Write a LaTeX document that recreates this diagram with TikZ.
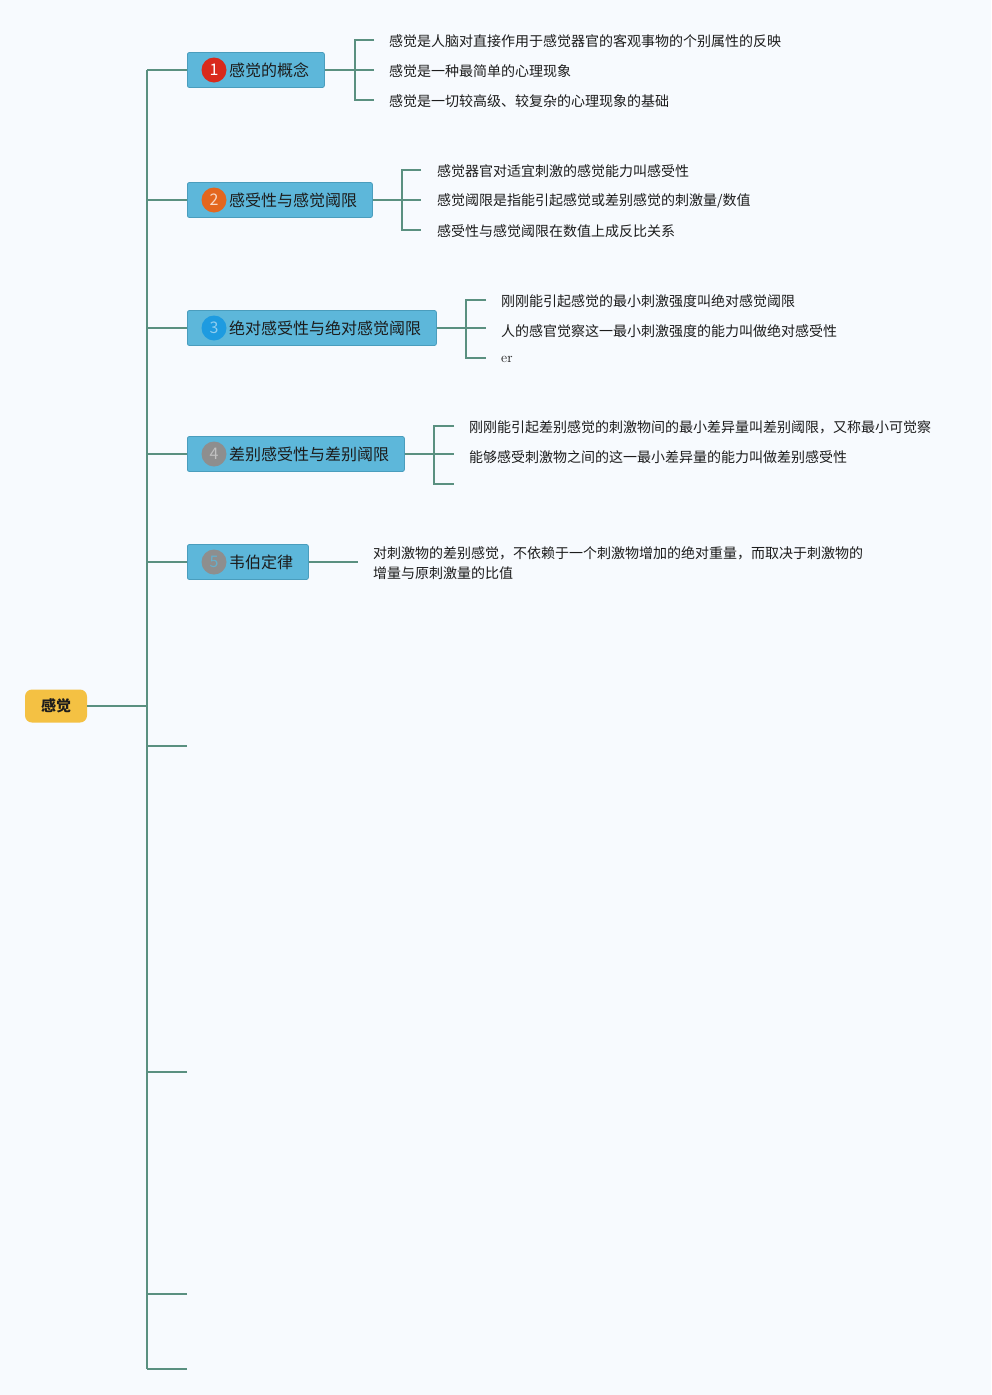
\documentclass[tikz,border=0pt]{standalone}
\usepackage{fontspec}
\newfontfamily\cjk{Noto Sans CJK SC}
\definecolor{bg}{HTML}{F7FAFE}
\definecolor{conncol}{HTML}{5A9080}
\definecolor{topicfill}{HTML}{5DB7DA}
\definecolor{topicdraw}{HTML}{4A9DBD}
\definecolor{rootfill}{HTML}{F4C143}
\definecolor{txt}{HTML}{1C1C1C}
\definecolor{cred}{HTML}{D92A1C}
\definecolor{cora}{HTML}{E4661E}
\definecolor{cblue}{HTML}{1E9BE0}
\definecolor{cgray}{HTML}{8E8E8E}
\tikzset{
  conn/.style={draw=conncol, line width=1.8pt},
  topic/.style={draw=topicdraw, fill=topicfill, line width=0.8pt, rounded corners=2pt, minimum height=35pt, anchor=west, inner sep=0pt},
  topictext/.style={anchor=west, inner sep=0pt, text=txt, font=\cjk\fontsize{16}{19}\selectfont},
  numc/.style={circle, minimum size=25pt, inner sep=0pt, font=\cjk\fontsize{16}{16}\selectfont},
  leaf/.style={anchor=west, inner sep=0pt, text=txt, font=\cjk\fontsize{14}{20}\selectfont, align=left},
}
\begin{document}
\begin{tikzpicture}[x=1pt,y=-1pt]
\fill[bg] (0,0) rectangle (991,1395);
\useasboundingbox (0,0) rectangle (991,1395);

% root
\node[fill=rootfill, rounded corners=7pt, minimum width=62pt, minimum height=33pt, inner sep=0pt, text=txt, font=\cjk\bfseries\fontsize{15}{15}\selectfont] (root) at (56,706) {感觉};

% trunk
\coordinate (ttop) at (147,70);
\coordinate (tbot) at (147,1369);
\draw[conn] (ttop) -- (tbot);
\draw[conn] (root.east) -- (root.east -| ttop);

% topics
\node[topic, minimum width=137pt] (n1) at (187,70) {};
\node[numc, fill=cred, text=white] (k1) at (214,70) {1};
\node[topictext] (t1) at (229,70) {感觉的概念};

\node[topic, minimum width=185pt] (n2) at (187,200) {};
\node[numc, fill=cora, text=white!75!cora] (k2) at (214,200) {2};
\node[topictext] (t2) at (229,200) {感受性与感觉阈限};

\node[topic, minimum width=249pt] (n3) at (187,328) {};
\node[numc, fill=cblue, text=white!50!cblue] (k3) at (214,328) {3};
\node[topictext] (t3) at (229,328) {绝对感受性与绝对感觉阈限};

\node[topic, minimum width=217pt] (n4) at (187,454) {};
\node[numc, fill=cgray, text=white!45!cgray] (k4) at (214,454) {4};
\node[topictext] (t4) at (229,454) {差别感受性与差别阈限};

\node[topic, minimum width=121pt] (n5) at (187,562) {};
\node[numc, fill=cgray, text=topicfill!80!cgray] (k5) at (214,562) {5};
\node[topictext] (t5) at (229,562) {韦伯定律};

\foreach \n in {n1,n2,n3,n4,n5} \draw[conn] (\n.west) -- (\n.west -| ttop);

% empty stubs
\coordinate (s6) at (187,746);
\coordinate (s7) at (187,1072);
\coordinate (s8) at (187,1294);
\coordinate (s9) at (187,1369);
\foreach \s in {s6,s7,s8,s9} \draw[conn] (\s) -- (\s -| ttop);

% children of 1
\node[leaf] (c11) at (389,41) {感觉是人脑对直接作用于感觉器官的客观事物的个别属性的反映};
\node[leaf] (c12) at (389,71) {感觉是一种最简单的心理现象};
\node[leaf] (c13) at (389,101) {感觉是一切较高级、较复杂的心理现象的基础};
\coordinate (b1) at (355,70);
\coordinate (e11) at (374,40);
\coordinate (e12) at (374,70);
\coordinate (e13) at (374,100);
\draw[conn, line width=1.5pt] (e11) -| (b1) |- (e13);
\draw[conn, line width=1.5pt] (n1.east) -- (e12);

% children of 2
\node[leaf] (c21) at (437,171) {感觉器官对适宜刺激的感觉能力叫感受性};
\node[leaf] (c22) at (437,201) {感觉阈限是指能引起感觉或差别感觉的刺激量/数值};
\node[leaf] (c23) at (437,231) {感受性与感觉阈限在数值上成反比关系};
\coordinate (b2) at (402,200);
\coordinate (e21) at (421,170);
\coordinate (e22) at (421,200);
\coordinate (e23) at (421,230);
\draw[conn, line width=1.5pt] (e21) -| (b2) |- (e23);
\draw[conn, line width=1.5pt] (n2.east) -- (e22);

% children of 3
\node[leaf] (c31) at (501,301) {刚刚能引起感觉的最小刺激强度叫绝对感觉阈限};
\node[leaf] (c32) at (501,331) {人的感官觉察这一最小刺激强度的能力叫做绝对感受性};
\node[anchor=west, inner sep=0pt, text=txt, font=\fontsize{14}{14}\selectfont] (c33) at (501,359) {er};
\coordinate (b3) at (466,328);
\coordinate (e31) at (486,300);
\coordinate (e32) at (486,328);
\coordinate (e33) at (486,358);
\draw[conn, line width=1.5pt] (e31) -| (b3) |- (e33);
\draw[conn, line width=1.5pt] (n3.east) -- (e32);

% children of 4
\node[leaf] (c41) at (469,427) {刚刚能引起差别感觉的刺激物间的最小差异量叫差别阈限，又称最小可觉察};
\node[leaf] (c42) at (469,457) {能够感受刺激物之间的这一最小差异量的能力叫做差别感受性};
\coordinate (b4) at (434,454);
\coordinate (e41) at (454,426);
\coordinate (e42) at (454,454);
\coordinate (e43) at (454,484);
\draw[conn, line width=1.5pt] (e41) -| (b4) |- (e43);
\draw[conn, line width=1.5pt] (n4.east) -- (e42);

% child of 5
\node[leaf] (c51) at (373,563) {对刺激物的差别感觉，不依赖于一个刺激物增加的绝对重量，而取决于刺激物的\\增量与原刺激量的比值};
\coordinate (e51) at (358,562);
\draw[conn, line width=1.5pt] (n5.east) -- (e51);
\end{tikzpicture}
\end{document}
